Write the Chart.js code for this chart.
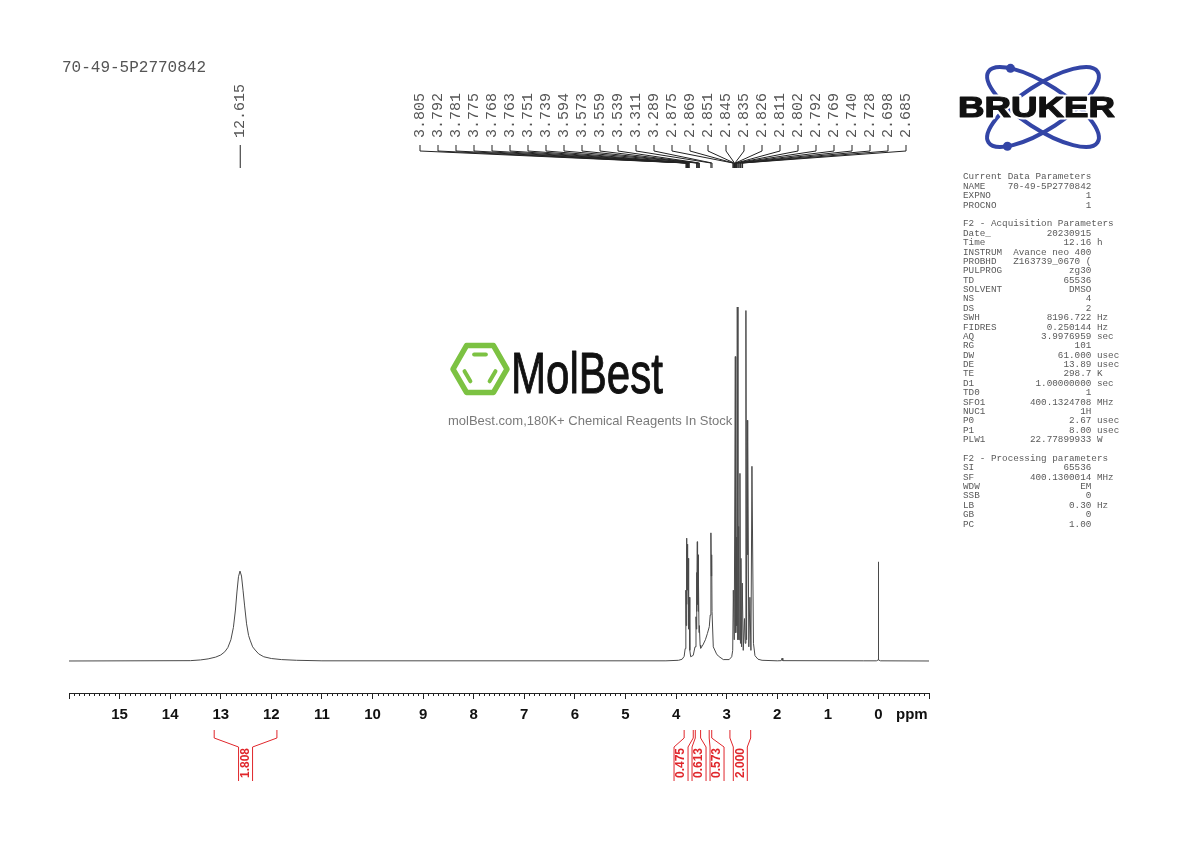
<!DOCTYPE html>
<html>
<head>
<meta charset="utf-8">
<title>70-49-5P2770842 1H NMR</title>
<script src="https://cdn.jsdelivr.net/npm/chart.js@4.4.1/dist/chart.umd.min.js"></script>
<style>
  html, body { margin: 0; padding: 0; background: #fff; }
  #wrap { position: relative; width: 1190px; height: 842px; }
</style>
</head>
<body>
<div id="wrap"><canvas id="nmr" width="1190" height="842"></canvas></div>
<script>
// ---- spectrum (ppm / relative intensity, tallest line = 100) ----
const specPpm = [
  16.0, 13.60, 13.40, 13.25, 13.10, 13.00, 12.92, 12.86, 12.80, 12.75, 12.71, 12.68, 12.65, 12.62,
  12.59, 12.56, 12.53, 12.49, 12.45, 12.42, 12.37, 12.32, 12.25, 12.15, 12.00, 11.80, 11.50, 11.00,
  4.20, 3.95, 3.88, 3.84, 3.82, 3.808, 3.805, 3.800, 3.792, 3.787, 3.781, 3.778, 3.775, 3.771,
  3.768, 3.765, 3.763, 3.757, 3.751, 3.746, 3.739, 3.728, 3.711, 3.66, 3.625, 3.606, 3.598, 3.594,
  3.588, 3.580, 3.575, 3.566, 3.561, 3.552, 3.546, 3.539, 3.525, 3.513, 3.47, 3.42, 3.38, 3.343,
  3.325, 3.311, 3.303, 3.296, 3.289, 3.264, 3.20, 3.165, 3.066, 2.95, 2.90, 2.880, 2.868, 2.850,
  2.829, 2.820, 2.809, 2.800, 2.790, 2.776, 2.762, 2.750, 2.737, 2.727, 2.717, 2.705, 2.691, 2.672,
  2.648, 2.633, 2.619, 2.606, 2.594, 2.588, 2.580, 2.562, 2.540, 2.520, 2.500, 2.470, 2.440, 2.38,
  2.30, 2.00, 1.92, 1.905, 1.89, 0.30, 0.04, 0.004, 0.0, -0.004, -0.04, -1.0
];
const specInt = [
  0, 0.1, 0.3, 0.6, 1.1, 1.7, 2.6, 3.8, 6.0, 9.5, 14.4, 19.5, 23.8, 25.4,
  24.0, 20.0, 15.8, 10.5, 7.2, 5.9, 4.0, 3.1, 2.0, 1.2, 0.7, 0.4, 0.2, 0.05,
  0.05, 0.2, 0.5, 1.3, 3.5, 9, 20, 10, 34.7, 16, 32, 22, 33, 20,
  30, 23, 29, 14, 26, 9, 18, 3, 1.2, 1.6, 4, 12.5, 9, 25,
  14, 33.7, 16, 30, 14, 22, 8, 10, 4.5, 3.6, 4.5, 6, 7.8, 9.7,
  13, 36.2, 24, 30, 14, 4.0, 2.0, 1.4, 0.4, 0.4, 1.2, 3, 20, 6,
  86, 8, 35, 10, 100, 6, 38, 6, 53, 5, 29, 4, 22, 3,
  12, 5, 99, 6, 68, 30, 62, 4, 18, 3, 55, 5, 1.5, 0.5,
  0.2, 0.05, 0.1, 0.8, 0.1, 0.05, 0.05, 0.3, 28, 0.3, 0.05, 0
];

// ---- picked peaks ----
const peakLabels = [
  12.615,
  3.805, 3.792, 3.781, 3.775, 3.768, 3.763, 3.751, 3.739,
  3.594, 3.573, 3.559, 3.539, 3.311, 3.289,
  2.875, 2.869, 2.851, 2.845, 2.835, 2.826, 2.811, 2.802, 2.792,
  2.769, 2.740, 2.728, 2.698, 2.685
];

// ---- integrals ----
const integralFrom = [13.13, 3.84, 3.62, 3.345, 2.935];
const integralTo = [11.89, 3.66, 3.515, 3.295, 2.525];
const integralValues = ['1.808', '0.475', '0.613', '0.573', '2.000'];

// ---- axis ----
const ppmMin = -1;
const ppmMax = 16;

// ---- texts ----
const sampleName = '70-49-5P2770842';
const paramLines = [
  ['Current Data Parameters'],
  ['NAME', '70-49-5P2770842'],
  ['EXPNO', '1'],
  ['PROCNO', '1'],
  [],
  ['F2 - Acquisition Parameters'],
  ['Date_', '20230915'],
  ['Time', '12.16', 'h'],
  ['INSTRUM', 'Avance neo 400'],
  ['PROBHD', 'Z163739_0670 ('],
  ['PULPROG', 'zg30'],
  ['TD', '65536'],
  ['SOLVENT', 'DMSO'],
  ['NS', '4'],
  ['DS', '2'],
  ['SWH', '8196.722', 'Hz'],
  ['FIDRES', '0.250144', 'Hz'],
  ['AQ', '3.9976959', 'sec'],
  ['RG', '101'],
  ['DW', '61.000', 'usec'],
  ['DE', '13.89', 'usec'],
  ['TE', '298.7', 'K'],
  ['D1', '1.00000000', 'sec'],
  ['TD0', '1'],
  ['SFO1', '400.1324708', 'MHz'],
  ['NUC1', '1H'],
  ['P0', '2.67', 'usec'],
  ['P1', '8.00', 'usec'],
  ['PLW1', '22.77899933', 'W'],
  [],
  ['F2 - Processing parameters'],
  ['SI', '65536'],
  ['SF', '400.1300014', 'MHz'],
  ['WDW', 'EM'],
  ['SSB', '0'],
  ['LB', '0.30', 'Hz'],
  ['GB', '0'],
  ['PC', '1.00']
];

const RED = '#e0262b';
const MONO = '"Liberation Mono", "DejaVu Sans Mono", monospace';
const SANS = '"Liberation Sans", Arial, sans-serif';

// place labels at least `gap` apart, groups centred on their anchors
function spreadLabels(xs, gap, maxX) {
  const groups = [];
  xs.forEach(x => {
    groups.push({ n: 1, sum: x, start: x });
    while (groups.length > 1) {
      const b = groups[groups.length - 1], a = groups[groups.length - 2];
      if (a.start + a.n * gap <= b.start) break;
      const n = a.n + b.n, sum = a.sum + b.sum;
      groups.splice(-2, 2, { n, sum, start: sum / n - (n - 1) * gap / 2 });
    }
  });
  const out = [];
  groups.forEach(g => {
    let s = g.start;
    if (maxX !== undefined && s + (g.n - 1) * gap > maxX) s = maxX - (g.n - 1) * gap;
    for (let i = 0; i < g.n; i++) out.push(s + i * gap);
  });
  return out;
}

function drawWatermark(ctx) {
  ctx.save();
  // hexagon
  const cx = 480, cy = 369, R = 27;
  const vtx = r => [0, 1, 2, 3, 4, 5].map(k => [cx + r * Math.cos(k * Math.PI / 3), cy + r * Math.sin(k * Math.PI / 3)]);
  const outer = vtx(R);
  ctx.strokeStyle = '#7cc242';
  ctx.lineWidth = 5.5;
  ctx.lineJoin = 'round';
  ctx.lineCap = 'round';
  ctx.beginPath();
  outer.forEach((p, i) => i ? ctx.lineTo(p[0], p[1]) : ctx.moveTo(p[0], p[1]));
  ctx.closePath();
  ctx.stroke();
  const inner = vtx(R * 0.62);
  [[4, 5], [0, 1], [2, 3]].forEach(([i, j]) => {
    const a = inner[i], b = inner[j];
    ctx.beginPath();
    ctx.moveTo(a[0] + (b[0] - a[0]) * 0.15, a[1] + (b[1] - a[1]) * 0.15);
    ctx.lineTo(a[0] + (b[0] - a[0]) * 0.85, a[1] + (b[1] - a[1]) * 0.85);
    ctx.lineWidth = 4;
    ctx.stroke();
  });
  // brand name
  ctx.fillStyle = '#111';
  ctx.font = '58px ' + SANS;
  ctx.textBaseline = 'alphabetic';
  ctx.textAlign = 'left';
  const w = ctx.measureText('MolBest').width;
  ctx.translate(511, 393);
  ctx.scale(152 / w, 1);
  ctx.fillText('MolBest', 0, 0);
  ctx.strokeStyle = '#111';
  ctx.lineWidth = 1;
  ctx.strokeText('MolBest', 0, 0);
  ctx.restore();

  ctx.save();
  ctx.fillStyle = '#7a7a7a';
  ctx.font = '13px ' + SANS;
  ctx.textBaseline = 'middle';
  ctx.fillText('molBest.com,180K+ Chemical Reagents In Stock', 448, 421);
  ctx.restore();
}

function drawBruker(ctx) {
  ctx.save();
  const cx = 1043, cy = 107, a = 65, b = 22;
  ctx.strokeStyle = '#3345a6';
  ctx.fillStyle = '#3345a6';
  ctx.lineWidth = 4;
  [[33, 222], [-33, 142]].forEach(([deg, t]) => {
    const phi = deg * Math.PI / 180;
    ctx.beginPath();
    ctx.ellipse(cx, cy, a, b, phi, 0, Math.PI * 2);
    ctx.stroke();
    const tt = t * Math.PI / 180;
    const ex = a * Math.cos(tt), ey = b * Math.sin(tt);
    const dx = cx + ex * Math.cos(phi) - ey * Math.sin(phi);
    const dy = cy + ex * Math.sin(phi) + ey * Math.cos(phi);
    ctx.beginPath();
    ctx.arc(dx, dy, 4.5, 0, Math.PI * 2);
    ctx.fill();
  });
  ctx.font = 'bold 29px ' + SANS;
  ctx.textBaseline = 'middle';
  const w = ctx.measureText('BRUKER').width;
  ctx.translate(958, 109);
  ctx.scale(157 / w, 1);
  ctx.lineJoin = 'round';
  ctx.strokeStyle = '#fff';
  ctx.lineWidth = 5;
  ctx.strokeText('BRUKER', 0, 0);
  ctx.fillStyle = '#111';
  ctx.fillText('BRUKER', 0, 0);
  ctx.strokeStyle = '#111';
  ctx.lineWidth = 1.2;
  ctx.strokeText('BRUKER', 0, 0);
  ctx.restore();
}

function drawParams(ctx) {
  ctx.save();
  ctx.font = '9.3px ' + MONO;
  ctx.fillStyle = '#5a5a5a';
  ctx.textBaseline = 'middle';
  const cw = ctx.measureText('0').width;
  const x0 = 963, valEnd = x0 + 23 * cw;
  paramLines.forEach((ln, i) => {
    const y = 177 + i * 9.38;
    if (!ln.length) return;
    ctx.textAlign = 'left';
    ctx.fillText(ln[0], x0, y);
    if (ln[1] !== undefined) {
      ctx.textAlign = 'right';
      ctx.fillText(ln[1], valEnd, y);
    }
    if (ln[2] !== undefined) {
      ctx.textAlign = 'left';
      ctx.fillText(ln[2], valEnd + cw, y);
    }
  });
  ctx.restore();
}

const nmrDecor = {
  id: 'nmrDecor',
  beforeDatasetsDraw(chart) {
    drawWatermark(chart.ctx);
  },
  afterDraw(chart) {
    const ctx = chart.ctx, xs = chart.scales.x, area = chart.chartArea;
    const px = v => xs.getPixelForValue(v);
    const yAxis = area.bottom;

    // minor ticks every 0.1 ppm
    ctx.save();
    ctx.strokeStyle = '#222';
    ctx.lineWidth = 1;
    ctx.beginPath();
    for (let i = ppmMin * 10; i <= ppmMax * 10; i++) {
      if (i % 10 === 0) continue;
      const x = Math.round(px(i / 10)) + 0.5;
      ctx.moveTo(x, yAxis);
      ctx.lineTo(x, yAxis + 3);
    }
    ctx.stroke();
    ctx.fillStyle = '#111';
    ctx.font = 'bold 15px ' + SANS;
    ctx.textBaseline = 'middle';
    ctx.fillText('ppm', 896, 715);
    ctx.restore();

    // peak labels
    ctx.save();
    const anchors = peakLabels.map(px);
    const lx = spreadLabels(anchors, 18, area.right - 23);
    ctx.strokeStyle = '#222';
    ctx.lineWidth = 1;
    ctx.fillStyle = '#555';
    ctx.font = '15px ' + MONO;
    peakLabels.forEach((v, i) => {
      ctx.beginPath();
      ctx.moveTo(lx[i], 145);
      ctx.lineTo(lx[i], 151);
      ctx.lineTo(anchors[i], 163);
      ctx.lineTo(anchors[i], 168);
      ctx.stroke();
      ctx.save();
      ctx.translate(lx[i], 138);
      ctx.rotate(-Math.PI / 2);
      ctx.textAlign = 'left';
      ctx.textBaseline = 'middle';
      ctx.fillText(v.toFixed(3), 0, 0);
      ctx.restore();
    });
    ctx.restore();

    // integrals
    ctx.save();
    const mids = integralFrom.map((f, i) => (px(f) + px(integralTo[i])) / 2);
    const ix = spreadLabels(mids, 18);
    ctx.strokeStyle = RED;
    ctx.fillStyle = RED;
    ctx.lineWidth = 1;
    ctx.font = 'bold 12px ' + SANS;
    integralValues.forEach((lab, i) => {
      const xa = px(integralFrom[i]), xb = px(integralTo[i]), c = ix[i];
      ctx.beginPath();
      ctx.moveTo(xa, 730); ctx.lineTo(xa, 738); ctx.lineTo(c - 7, 747); ctx.lineTo(c - 7, 781);
      ctx.moveTo(xb, 730); ctx.lineTo(xb, 738); ctx.lineTo(c + 7, 747); ctx.lineTo(c + 7, 781);
      ctx.stroke();
      ctx.save();
      ctx.translate(c, 763);
      ctx.rotate(-Math.PI / 2);
      ctx.textAlign = 'center';
      ctx.textBaseline = 'middle';
      ctx.fillText(lab, 0, 0);
      ctx.restore();
    });
    ctx.restore();

    // sample name
    ctx.save();
    ctx.fillStyle = '#555';
    ctx.font = '16px ' + MONO;
    ctx.textBaseline = 'middle';
    ctx.fillText(sampleName, 62, 68);
    ctx.restore();

    drawParams(ctx);
    drawBruker(ctx);
  }
};

Chart.defaults.font.family = SANS;

new Chart(document.getElementById('nmr'), {
  type: 'line',
  data: {
    datasets: [{
      label: sampleName,
      data: specPpm.map((p, i) => ({ x: p, y: specInt[i] })),
      borderColor: '#4a4a4a',
      borderWidth: 1,
      pointRadius: 0,
      tension: 0,
      fill: false
    }]
  },
  options: {
    responsive: false,
    animation: false,
    devicePixelRatio: 1,
    events: [],
    layout: { padding: { left: 69, right: 261, top: 300, bottom: 89 } },
    plugins: { legend: { display: false }, tooltip: { enabled: false } },
    scales: {
      x: {
        type: 'linear',
        reverse: true,
        min: ppmMin,
        max: ppmMax,
        afterFit: s => { s.height = 60; },
        ticks: {
          stepSize: 1,
          autoSkip: false,
          maxRotation: 0,
          padding: 7,
          color: '#111',
          font: { size: 15, weight: 'bold' },
          callback: v => (v >= 0 && v <= 15) ? String(v) : ''
        },
        grid: { drawOnChartArea: false, tickLength: 6, color: '#222', tickColor: '#222' },
        border: { display: true, color: '#222', width: 1 }
      },
      y: {
        display: false,
        min: -9.04,
        max: 101.98
      }
    }
  },
  plugins: [nmrDecor]
});
</script>
</body>
</html>
